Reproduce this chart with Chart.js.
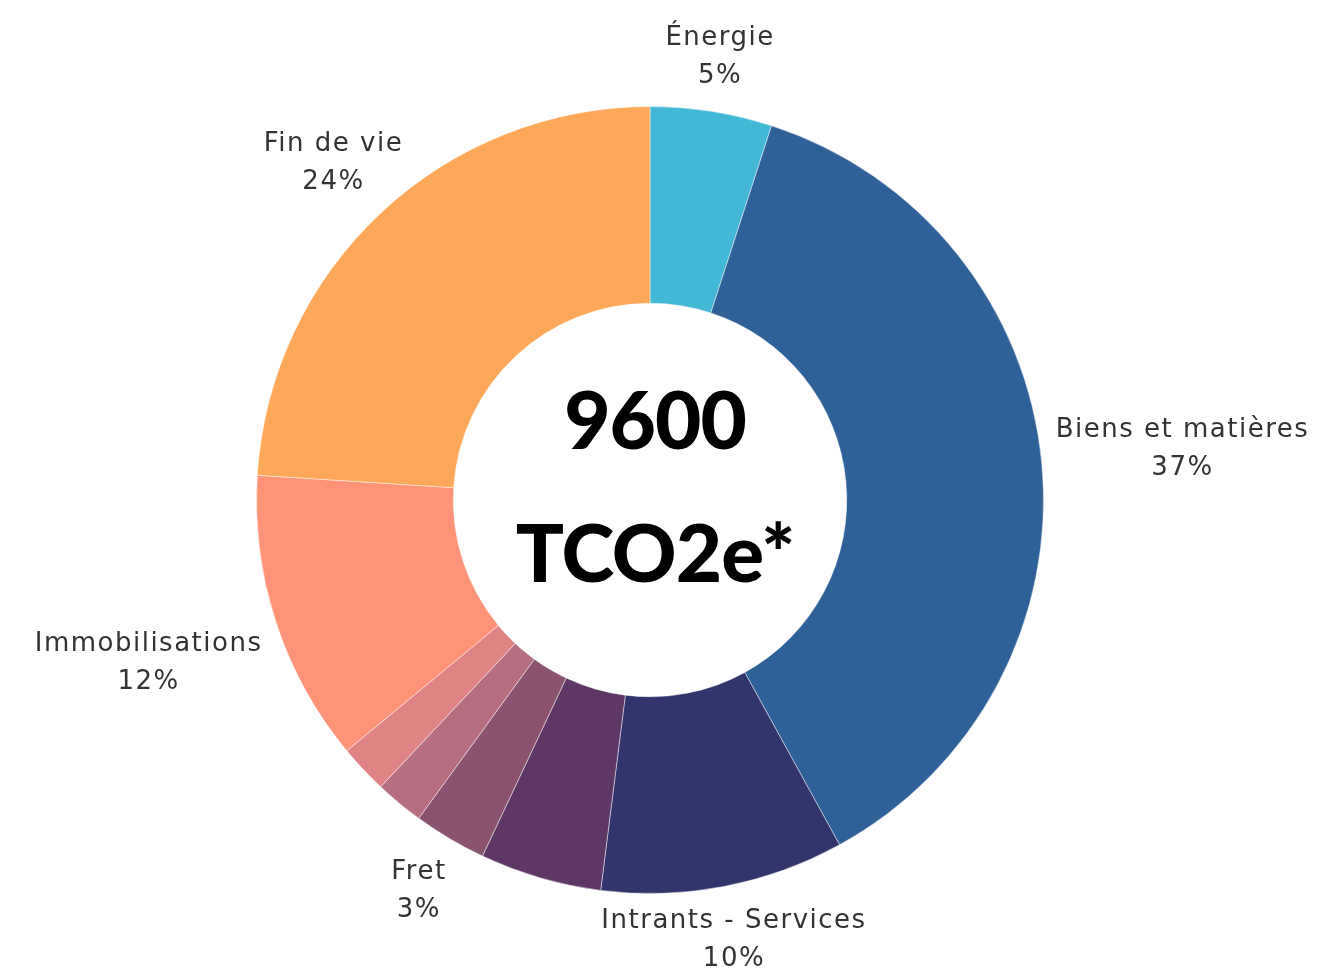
<!DOCTYPE html>
<html>
<head>
<meta charset="utf-8">
<script src="https://cdn.jsdelivr.net/npm/chart.js@4.4.1/dist/chart.umd.min.js"></script>
<style>
html,body{margin:0;padding:0;background:#fff;}
#wrap{position:relative;width:1329px;height:974px;}
</style>
</head>
<body>
<div id="wrap"><canvas id="c" width="1329" height="974"></canvas></div>
<script>
const categories = ["Énergie", "Biens et matières", "Intrants - Services", "", "Fret", "", "", "Immobilisations", "Fin de vie"];
const values = [5, 37, 10, 5, 3, 2, 2, 12, 24];
const shownLabels = [true, true, true, false, true, false, false, true, true];
const colors = ["#42B8D6", "#2F6098", "#31356B", "#5E3766", "#8A5470", "#B66F80", "#DF8385", "#FF9378", "#FFA85A"];
const centerLines = ["9600", "TCO2e*"];

const labelPlugin = {
  id: 'outLabels',
  afterDatasetsDraw(chart) {
    const ctx = chart.ctx;
    const meta = chart.getDatasetMeta(0);
    const total = values.reduce((a, b) => a + b, 0);
    ctx.save();
    ctx.font = '400 26px "DejaVu Sans", sans-serif';
    ctx.letterSpacing = '1.5px';
    ctx.fillStyle = '#333333';
    ctx.textAlign = 'center';
    ctx.textBaseline = 'middle';
    const lh = 38;
    meta.data.forEach((arc, i) => {
      if (!shownLabels[i]) return;
      const p = arc.getProps(['x', 'y', 'startAngle', 'endAngle', 'outerRadius'], true);
      const a = (p.startAngle + p.endAngle) / 2;
      const dx = Math.cos(a), dy = Math.sin(a);
      const r = p.outerRadius + 14;
      const px = p.x + r * dx, py = p.y + r * dy;
      const l1 = categories[i];
      const l2 = Math.round(values[i] / total * 100) + '%';
      const w = Math.max(ctx.measureText(l1).width, ctx.measureText(l2).width);
      const h = lh * 2 + 4;
      const d = Math.min(Math.abs(dx) > 1e-6 ? (w / 2) / Math.abs(dx) : 1e9, Math.abs(dy) > 1e-6 ? (h / 2) / Math.abs(dy) : 1e9);
      const cx = px + d * dx, cy = py + d * dy;
      ctx.fillText(l1, cx, cy - lh / 2);
      ctx.fillText(l2, cx, cy + lh / 2);
    });
    // center text
    const a0 = meta.data[0];
    ctx.fillStyle = '#000000';
    ctx.font = '900 80px "Lato", sans-serif';
    ctx.letterSpacing = '-1px';
    ctx.fillText(centerLines[0], a0.x + 5, a0.y - 77);
    ctx.fillText(centerLines[1], a0.x + 5, a0.y + 56);
    ctx.restore();
  }
};

new Chart(document.getElementById('c'), {
  type: 'doughnut',
  data: {
    labels: categories,
    datasets: [{
      data: values,
      backgroundColor: colors,
      borderColor: 'rgba(255,255,255,0.45)',
      borderWidth: 1
    }]
  },
  options: {
    responsive: false,
    animation: false,
    cutout: '50%',
    layout: { padding: { left: 256, right: 285, top: 106, bottom: 80 } },
    plugins: { legend: { display: false }, tooltip: { enabled: false } }
  },
  plugins: [labelPlugin]
});
</script>
</body>
</html>
